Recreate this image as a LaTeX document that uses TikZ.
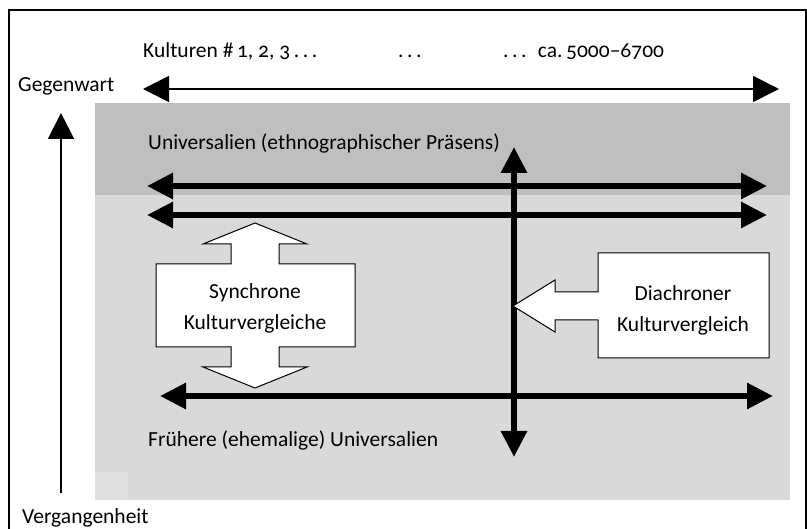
\documentclass[tikz,border=0pt]{standalone}
\usepackage{fontspec}
\setmainfont{Carlito}[Numbers=OldStyle]
\usetikzlibrary{arrows.meta}
\definecolor{darkband}{HTML}{BFBFBF}
\definecolor{lightband}{HTML}{D9D9D9}
\definecolor{patchgray}{HTML}{E0E0E0}
\begin{document}
\begin{tikzpicture}[x=1pt,y=-1pt,
  lbl/.style={font=\fontsize{21.5}{25}\selectfont, inner sep=0pt, anchor=base west},
  boxtext/.style={font=\fontsize{21.5}{31}\selectfont, inner sep=0pt, align=center},
  thinarrow/.style={line width=1.8pt},
  thickarrow/.style={line width=6pt},
  blockarrow/.style={draw=black, line width=1pt, fill=white, line join=miter}
]
\useasboundingbox (0,0) rectangle (807,529);
% frame
\draw[line width=2pt] (9,10) rectangle (806,545);
% bands
\fill[darkband] (95,103) rectangle (790,195);
\fill[lightband] (95,195) rectangle (790,500);
\fill[patchgray] (95,472) rectangle (128,500);

% top labels
\node[lbl] (kult) at (143,58) {Kulturen \#\,1, 2, 3\,.\,.\,.};
\node[lbl] (dots) at (398,58) {.\,.\,.};
\node[lbl] (ca) at (503,58) {.\,.\,.~ ca.\,5000–6700};
\node[lbl] (gegen) at (18,92) {Gegenwart};
\node[lbl] (verg) at (22,524) {Vergangenheit};
\node[lbl] (univ) at (148,150) {Universalien (ethnographischer Präsens)};
\node[lbl] (frueh) at (148,447) {Frühere (ehemalige) Universalien};

% thin arrows
\coordinate (kL) at (143,89);
\coordinate (kR) at (779,89);
\draw[thinarrow, {Triangle[length=26pt,width=26pt]}-{Triangle[length=26pt,width=26pt]}] (kL) -- (kR);
\coordinate (tB) at (61,493);
\coordinate (tT) at (61,113);
\draw[thinarrow, -{Triangle[length=26pt,width=26pt]}] (tB) -- (tT);

% thick arrows
\coordinate (a1L) at (147,186);
\coordinate (a1R) at (767,186);
\coordinate (a2L) at (147,215);
\coordinate (a2R) at (767,215);
\coordinate (a3L) at (160,396);
\coordinate (a3R) at (773,396);
\coordinate (vT) at (514,147);
\coordinate (vB) at (514,457);
\foreach \p in {1,2,3}{
  \draw[thickarrow, {Triangle[length=26pt,width=25pt]}-{Triangle[length=26pt,width=25pt]}] (a\p L) -- (a\p R);
}
\draw[thickarrow, {Triangle[length=26pt,width=25pt]}-{Triangle[length=26pt,width=25pt]}] (vB) -- (vT);

% synchrone block arrow
\draw[blockarrow] (255,223) -- (307,244) -- (279,244) -- (279,264) -- (355,264) -- (355,347)
  -- (279,347) -- (279,367) -- (307,367) -- (255,388) -- (203,367) -- (231,367) -- (231,347)
  -- (156,347) -- (156,264) -- (231,264) -- (231,244) -- (203,244) -- cycle;
\node[boxtext] (sync) at (255,308) {Synchrone\\Kulturvergleiche};

% diachron block arrow
\draw[blockarrow] (769,253) -- (598,253) -- (598,292) -- (555,292) -- (555,280) -- (513,306)
  -- (555,332) -- (555,320) -- (598,320) -- (598,358) -- (769,358) -- cycle;
\node[boxtext] (dia) at (683,310) {Diachroner\\Kulturvergleich};
\end{tikzpicture}
\end{document}
